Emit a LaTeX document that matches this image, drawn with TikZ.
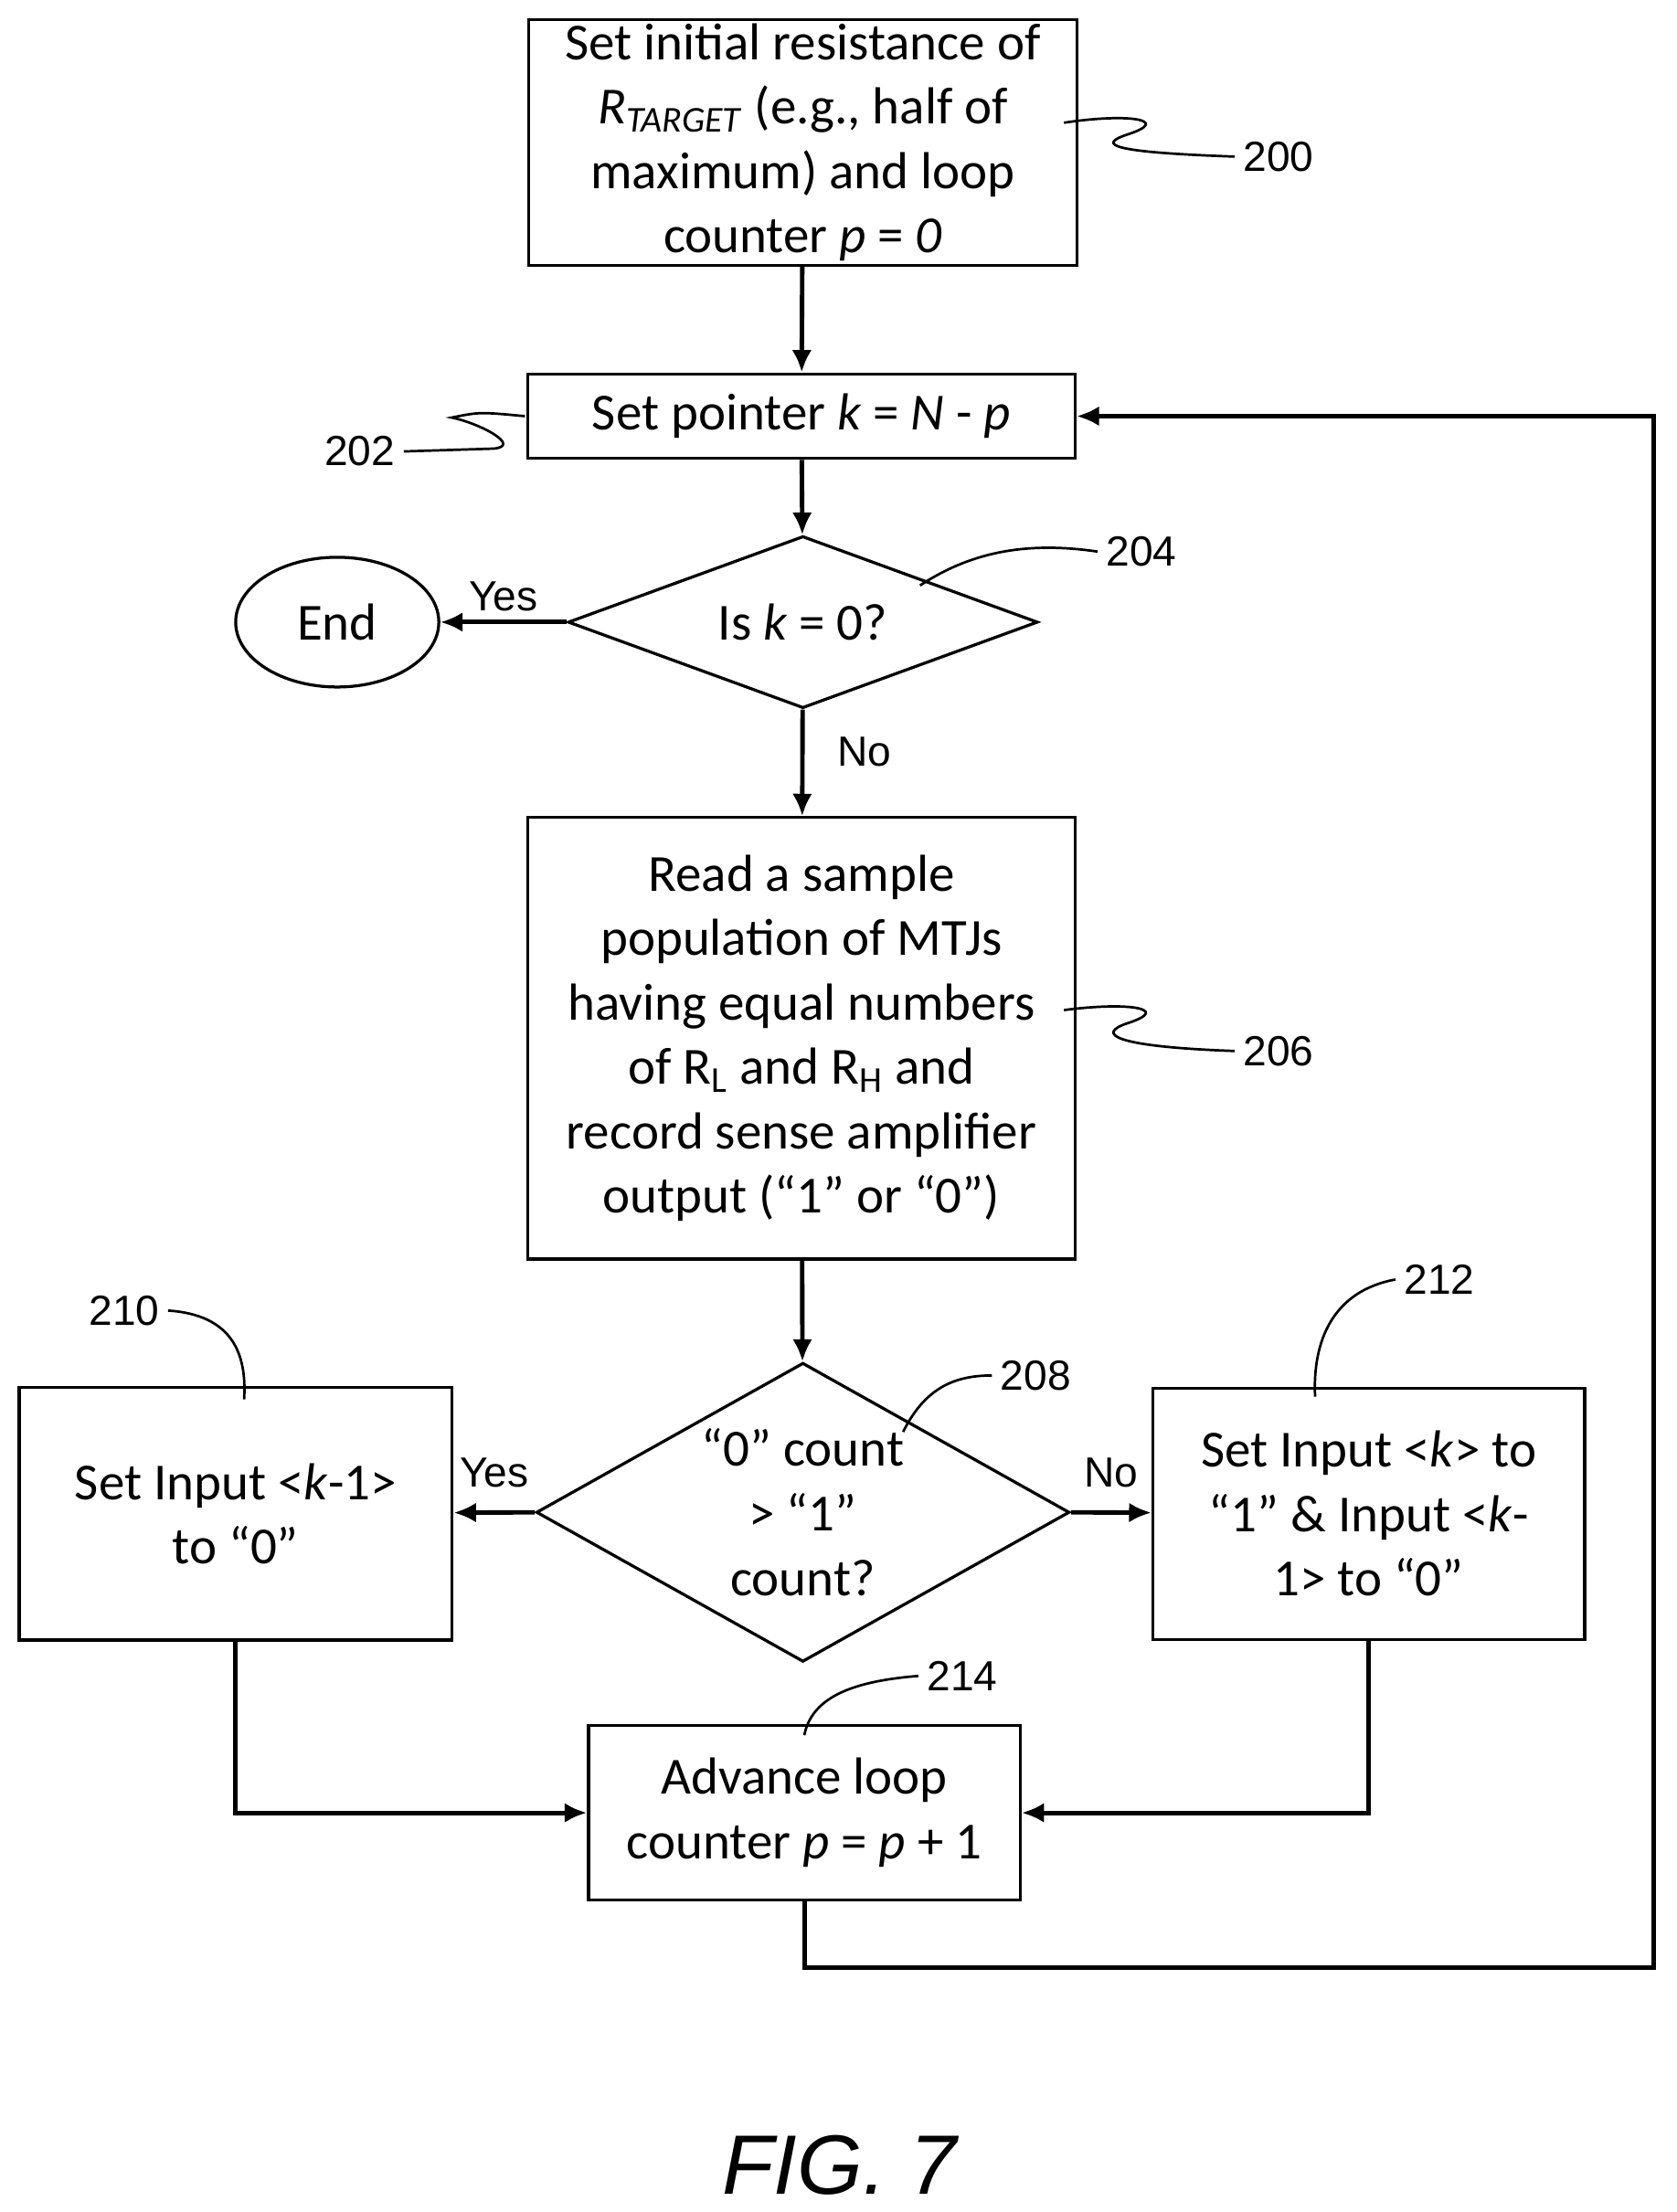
\documentclass[tikz,border=0pt]{standalone}
\usepackage{fontspec}
\setmainfont{Carlito}
\newfontfamily\labelfont{Liberation Sans}
\usetikzlibrary{shapes.geometric}
\usetikzlibrary{arrows.meta}
\usetikzlibrary{positioning}

\begin{document}
\begin{tikzpicture}[x=0.02cm,y=-0.02cm,
    font=\fontsize{21}{26}\selectfont,
    box/.style={draw, line width=1.2pt, align=center, inner sep=0pt},
    dia/.style={draw, diamond, line width=1.2pt, inner sep=0pt},
    flow/.style={line width=1.8pt, -{Latex[length=9pt,width=8pt]}},
    lead/.style={line width=1pt},
    ref/.style={font=\labelfont\fontsize{17}{20}\selectfont},
    yn/.style={font=\labelfont\fontsize{17}{20}\selectfont}]
    \useasboundingbox (0,0) rectangle (1188,1568);
    % Boxes and decisions
    \node[box, minimum width=7.78cm, minimum height=3.48cm] (set) at (569,101)
        {Set initial resistance of\\\textit{R}\textsubscript{\textit{TARGET}} (e.g., half of\\maximum) and loop\\counter \textit{p} = \textit{0}};
    \node[box, minimum width=7.76cm, minimum height=1.2cm] (ptr) at (568,295)
        {Set pointer \textit{k} = \textit{N} - \textit{p}};
    \node[dia, minimum width=6.66cm, minimum height=2.44cm] (kzero) at (569,441) {};
    \node at (kzero) {Is \textit{k} = 0?};
    \node[draw, ellipse, line width=1.2pt, minimum width=2.88cm, minimum height=1.84cm] (end) at (239,441) {End};
    \node[box, minimum width=7.76cm, minimum height=6.26cm] (read) at (568,736)
        {Read a sample\\population of MTJs\\having equal numbers\\of R\textsubscript{L} and R\textsubscript{H} and\\record sense amplifier\\output (“1” or “0”)};
    \node[dia, minimum width=7.56cm, minimum height=4.24cm] (cnt) at (569,1072) {};
    \node at (cnt) [align=center] {“0” count\\> “1”\\count?};
    \node[box, minimum width=6.14cm, minimum height=3.58cm] (zero) at (167,1073)
        {Set Input <\textit{k}-1>\\to “0”};
    \node[box, minimum width=6.12cm, minimum height=3.56cm] (one) at (970,1073)
        {Set Input <\textit{k}> to\\“1” \& Input <\textit{k}-\\1> to “0”};
    \node[box, minimum width=6.12cm, minimum height=2.48cm] (adv) at (570,1285)
        {Advance loop\\counter \textit{p} = \textit{p} + 1};
    % Connectors
    \draw[flow] (set) -- (ptr);
    \draw[flow] (ptr) -- (kzero);
    \draw[flow] (kzero) -- node[yn, above, pos=0.5] {Yes} (end);
    \draw[flow] (kzero) -- node[yn, right=10pt, pos=0.4] {No} (read);
    \draw[flow] (read) -- (cnt);
    \draw[flow] (cnt.west) -- node[yn, above=6pt] {Yes} (zero);
    \draw[flow] (cnt.east) -- node[yn, above=6pt] {No} (one);
    \draw[flow] (zero.south) |- (adv);
    \draw[flow] (one.south) |- (adv);
    \coordinate (loop) at (1172,1395);
    \draw[flow] (adv.south) |- (loop) |- (ptr.east);
    % Reference numerals
    \node[ref] (n200) at (906,111) {200};
    \draw[lead] (754,87) .. controls (800,80) and (830,85) .. (800,95) .. controls (775,103) and (790,108) .. (n200.west);
    \node[ref] (n202) at (255,320) {202};
    \draw[lead] (n202.east) -- (350,318) .. controls (370,316) and (340,300) .. (320,296) .. controls (340,292) .. (372,295);
    \node[ref] (n204) at (809,391) {204};
    \draw[lead] (652,415) .. controls (690,390) and (730,384) .. (n204.west);
    \node[ref] (n206) at (906,745) {206};
    \draw[lead] (754,716) .. controls (800,710) and (830,715) .. (800,725) .. controls (775,733) and (790,742) .. (n206.west);
    \node[ref] (n208) at (734,975) {208};
    \draw[lead] (640,1015) .. controls (655,985) and (675,975) .. (n208.west);
    \node[ref] (n210) at (88,929) {210};
    \draw[lead] (n210.east) .. controls (165,932) and (175,960) .. (173,992);
    \node[ref] (n212) at (1020,907) {212};
    \draw[lead] (n212.west) .. controls (945,915) and (930,950) .. (932,990);
    \node[ref] (n214) at (682,1188) {214};
    \draw[lead] (n214.west) .. controls (600,1192) and (575,1205) .. (570,1230);
    % Figure caption
    \node[font=\labelfont\itshape\fontsize{34}{40}\selectfont] (fig) at (595,1535) {FIG. 7};
\end{tikzpicture}
\end{document}
